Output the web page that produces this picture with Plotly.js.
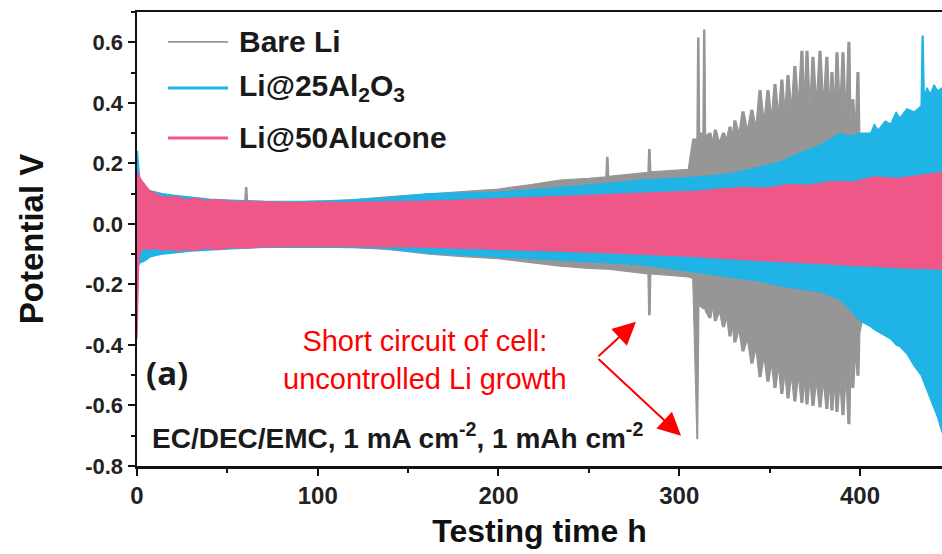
<!DOCTYPE html>
<html>
<head>
<meta charset="utf-8">
<script src="https://cdn.plot.ly/plotly-3.0.1.min.js"></script>
<style>html,body{margin:0;padding:0;background:#fff;}#chart{width:942px;height:554px;}</style>
</head>
<body>
<div id="chart"></div>
<script>
// ---------------- DATA ----------------
// Li@50Alucone : envelope of the voltage oscillation
const alucTime = [0, 0.4, 1, 2, 3, 5, 7, 10, 14, 18, 22, 27, 32, 38, 45, 52, 60, 70, 80, 90, 100, 115, 130, 145, 160, 175, 190, 205, 220, 235, 250, 265, 280, 295, 310, 322, 335, 348, 360, 372, 384, 396, 408, 420, 432, 445.5];
const alucHigh = [0.17, 0.17, 0.16, 0.15, 0.14, 0.125, 0.11, 0.1, 0.09, 0.088, 0.09, 0.08, 0.085, 0.078, 0.08, 0.075, 0.074, 0.072, 0.071, 0.07, 0.071, 0.07, 0.072, 0.073, 0.075, 0.078, 0.08, 0.084, 0.088, 0.09, 0.094, 0.098, 0.102, 0.104, 0.108, 0.115, 0.12, 0.118, 0.13, 0.128, 0.14, 0.138, 0.155, 0.15, 0.16, 0.17];
const alucLow  = [-0.38, -0.38, -0.12, -0.09, -0.085, -0.08, -0.085, -0.08, -0.088, -0.082, -0.09, -0.085, -0.088, -0.08, -0.085, -0.078, -0.08, -0.076, -0.075, -0.074, -0.075, -0.074, -0.075, -0.076, -0.077, -0.08, -0.082, -0.085, -0.088, -0.09, -0.093, -0.096, -0.1, -0.104, -0.108, -0.112, -0.118, -0.122, -0.125, -0.13, -0.133, -0.138, -0.14, -0.145, -0.148, -0.15];

// Li@25Al2O3
const aloxTime = [0, 0.3, 0.8, 1.5, 3, 5, 7, 10, 14, 20, 30, 40, 55, 70, 90, 110, 135, 150, 162, 180, 200, 218, 234, 250, 265, 278, 295, 311, 328, 345, 356, 367, 378, 389, 394, 400, 406, 408, 410, 414, 417, 420, 422, 426, 430, 433.8, 434.4, 435, 435.6, 437, 439, 441, 443, 445.5];
const aloxHigh = [0.24, 0.24, 0.2, 0.15, 0.12, 0.112, 0.11, 0.105, 0.1, 0.095, 0.088, 0.082, 0.078, 0.075, 0.074, 0.076, 0.085, 0.092, 0.1, 0.102, 0.105, 0.112, 0.12, 0.128, 0.136, 0.145, 0.15, 0.155, 0.165, 0.19, 0.205, 0.235, 0.26, 0.3, 0.29, 0.3, 0.3, 0.33, 0.31, 0.34, 0.33, 0.37, 0.35, 0.38, 0.37, 0.39, 0.62, 0.62, 0.42, 0.45, 0.43, 0.46, 0.44, 0.45];
const aloxLow  = [-0.14, -0.14, -0.14, -0.13, -0.125, -0.12, -0.11, -0.105, -0.1, -0.097, -0.09, -0.086, -0.082, -0.078, -0.077, -0.078, -0.08, -0.09, -0.097, -0.104, -0.11, -0.115, -0.12, -0.125, -0.13, -0.135, -0.148, -0.16, -0.175, -0.19, -0.205, -0.215, -0.225, -0.25, -0.28, -0.32, -0.34, -0.35, -0.355, -0.37, -0.38, -0.4, -0.405, -0.43, -0.47, -0.5, -0.51, -0.52, -0.53, -0.55, -0.58, -0.61, -0.64, -0.69];

// Bare Li : smooth part and isolated spikes
const bareTime = [0, 20, 40, 59.6, 60, 60.8, 61.2, 80, 100, 120, 140, 162, 180, 200, 218, 234, 250, 259.4, 259.8, 260.6, 261, 270, 282.7, 283.1, 283.9, 284.3, 295, 305, 307.5, 309.8, 310.2, 310.9, 311.3, 313.1, 313.5, 314.2, 314.6];
const bareHigh = [0.07, 0.07, 0.07, 0.07, 0.12, 0.12, 0.07, 0.07, 0.075, 0.08, 0.09, 0.1, 0.108, 0.115, 0.13, 0.145, 0.15, 0.155, 0.22, 0.22, 0.157, 0.162, 0.17, 0.245, 0.245, 0.172, 0.175, 0.18, 0.28, 0.28, 0.614, 0.614, 0.3, 0.3, 0.64, 0.64, 0.29];
const bareLow  = [-0.07, -0.07, -0.07, -0.07, -0.07, -0.07, -0.07, -0.07, -0.075, -0.078, -0.085, -0.1, -0.108, -0.115, -0.128, -0.14, -0.147, -0.15, -0.15, -0.15, -0.15, -0.155, -0.165, -0.3, -0.3, -0.165, -0.17, -0.175, -0.18, -0.71, -0.71, -0.27, -0.27, -0.28, -0.28, -0.28, -0.29];
// Bare Li : comb of spikes after the short circuit
// (spike time, upper peak, upper notch after it, lower trough, lower notch after it)
const combTime   = [317, 320, 324.5, 328.1, 330.8, 335.3, 340.2, 344.7, 349.1, 353, 356.8, 360.2, 364, 367.9, 370.7, 374, 377.9, 381.7, 384.5, 387.3, 390.6, 393.9, 396.1, 398.9];
const combPeak   = [0.30, 0.31, 0.30, 0.32, 0.34, 0.37, 0.376, 0.44, 0.44, 0.46, 0.475, 0.49, 0.52, 0.57, 0.57, 0.55, 0.57, 0.55, 0.50, 0.565, 0.565, 0.60, 0.41, 0.50];
const combTop    = [0.27, 0.27, 0.28, 0.29, 0.30, 0.31, 0.32, 0.34, 0.35, 0.36, 0.37, 0.38, 0.40, 0.40, 0.39, 0.40, 0.40, 0.38, 0.39, 0.38, 0.36, 0.33, 0.31, 0.29];
const combTrough = [-0.31, -0.32, -0.34, -0.37, -0.39, -0.42, -0.46, -0.505, -0.52, -0.54, -0.56, -0.575, -0.585, -0.59, -0.595, -0.6, -0.605, -0.61, -0.615, -0.62, -0.63, -0.66, -0.54, -0.5];
const combBottom = [-0.27, -0.29, -0.31, -0.33, -0.35, -0.38, -0.41, -0.44, -0.46, -0.47, -0.49, -0.5, -0.5, -0.51, -0.51, -0.52, -0.52, -0.52, -0.52, -0.52, -0.5, -0.45, -0.42, -0.36];
const bareEndTime = [401, 402];
const bareEndHigh = [0.28, 0.27];
const bareEndLow  = [-0.33, -0.32];

const seriesNames = ['Bare Li', 'Li@25Al<sub>2</sub>O<sub>3</sub>', 'Li@50Alucone'];
const xTicks = [0, 100, 200, 300, 400];
const yTicks = [-0.8, -0.6, -0.4, -0.2, 0.0, 0.2, 0.4, 0.6];

// ---------------- BUILD ----------------
const GRAY = '#969696', BLUE = '#1fb3e6', PINK = '#ee5787';
const FONT = 'Arial, "Liberation Sans", sans-serif';

function band(t, hi, lo) {
  return { x: t.concat(t.slice().reverse()), y: hi.concat(lo.slice().reverse()) };
}

// Bare Li: assemble upper and lower outline including the comb
const w = 0.55;
let upT = bareTime.slice(), upV = bareHigh.slice();
let dnT = bareTime.slice(), dnV = bareLow.slice();
combTime.forEach((t, i) => {
  upT.push(t - w, t + w); upV.push(combPeak[i], combPeak[i]);
  dnT.push(t - w, t + w); dnV.push(combTrough[i], combTrough[i]);
  const next = i < combTime.length - 1 ? combTime[i + 1] : bareEndTime[0];
  const mid = (t + next) / 2;
  upT.push(mid); upV.push(combTop[i]);
  dnT.push(mid); dnV.push(combBottom[i]);
});
upT = upT.concat(bareEndTime); upV = upV.concat(bareEndHigh);
dnT = dnT.concat(bareEndTime); dnV = dnV.concat(bareEndLow);
const bare = { x: upT.concat(dnT.slice().reverse()), y: upV.concat(dnV.slice().reverse()) };
const alox = band(aloxTime, aloxHigh, aloxLow);
const aluc = band(alucTime, alucHigh, alucLow);

function poly(d, color, name) {
  return { type: 'scatter', mode: 'lines', x: d.x, y: d.y, fill: 'toself', fillcolor: color,
           line: { color: color, width: 1.2 }, name: name, showlegend: false, hoverinfo: 'skip' };
}
const traces = [poly(bare, GRAY, 'Bare Li'), poly(alox, BLUE, 'Li@25Al2O3'), poly(aluc, PINK, 'Li@50Alucone')];

// legend drawn by hand
const legY = [0.934, 0.8326, 0.7225];
const legColors = [GRAY, BLUE, PINK];
const legWidths = [1.8, 3, 3];
const shapes = legY.map((y, i) => ({ type: 'line', xref: 'paper', yref: 'paper', x0: 0.0385, x1: 0.113, y0: y, y1: y,
                                     line: { color: legColors[i], width: legWidths[i] } }));
const annotations = legY.map((y, i) => ({ xref: 'paper', yref: 'paper', x: 0.1242, y: y, xanchor: 'left', yanchor: 'middle',
  text: seriesNames[i], showarrow: false, font: { family: FONT, size: 30, weight: 'bold', color: '#1a1a1a' } }));

annotations.push(
  { xref: 'paper', yref: 'paper', x: 0.0085, y: 0.207, xanchor: 'left', yanchor: 'middle', text: '(a)', showarrow: false,
    font: { family: '"Open Sans", Arial, sans-serif', size: 33, weight: 'bold', color: '#1a1a1a' } },
  { xref: 'paper', yref: 'paper', x: 0.0161, y: 0.066, xanchor: 'left', yanchor: 'middle',
    text: 'EC/DEC/EMC, 1 mA cm<sup>-2</sup>, 1 mAh cm<sup>-2</sup>', showarrow: false,
    font: { family: FONT, size: 28, weight: 'bold', color: '#1a1a1a' } },
  { xref: 'paper', yref: 'paper', x: 0.3578, y: 0.2335, xanchor: 'center', yanchor: 'middle', align: 'center',
    text: 'Short circuit of cell:<br>uncontrolled Li growth', showarrow: false,
    font: { family: FONT, size: 29, color: '#ff0000' } },
  { x: 276.1, y: -0.3235, ax: 254.5, ay: -0.442, axref: 'x', ayref: 'y', text: '', showarrow: true,
    arrowhead: 2, arrowsize: 2.3, arrowwidth: 2, arrowcolor: '#ff0000', standoff: 0 },
  { x: 301.0, y: -0.70, ax: 254.5, ay: -0.442, axref: 'x', ayref: 'y', text: '', showarrow: true,
    arrowhead: 2, arrowsize: 2.3, arrowwidth: 2, arrowcolor: '#ff0000', standoff: 0 }
);

const layout = {
  width: 942, height: 554,
  margin: { l: 137, r: 0, t: 12, b: 88 },
  paper_bgcolor: '#ffffff', plot_bgcolor: '#ffffff',
  showlegend: false,
  font: { family: FONT, color: '#1a1a1a' },
  xaxis: {
    range: [0, 445.4], tickvals: xTicks, ticktext: xTicks.map(String),
    showline: true, linewidth: 2.5, linecolor: '#111', mirror: true,
    ticks: 'outside', ticklen: 7, tickwidth: 2, tickcolor: '#111',
    minor: { dtick: 50, tick0: 0, ticks: 'outside', ticklen: 4, tickwidth: 2, tickcolor: '#111' },
    showgrid: false, zeroline: false,
    tickfont: { family: FONT, size: 24, weight: 'bold', color: '#222' },
    title: { text: 'Testing time h', font: { family: FONT, size: 32, weight: 'bold', color: '#111' }, standoff: 12 }
  },
  yaxis: {
    range: [-0.8, 0.7], tickvals: yTicks, ticktext: yTicks.map(v => v.toFixed(1)),
    showline: true, linewidth: 2.5, linecolor: '#111', mirror: false,
    ticks: 'outside', ticklen: 7, tickwidth: 2, tickcolor: '#111',
    minor: { dtick: 0.1, tick0: -0.8, ticks: 'outside', ticklen: 4, tickwidth: 2, tickcolor: '#111' },
    showgrid: false, zeroline: false,
    tickfont: { family: FONT, size: 22, weight: 'bold', color: '#222' },
    title: { text: 'Potential V', font: { family: FONT, size: 33, weight: 'bold', color: '#111' }, standoff: 32 }
  },
  shapes: shapes,
  annotations: annotations
};

Plotly.newPlot('chart', traces, layout, { staticPlot: true, displayModeBar: false });
</script>
</body>
</html>
